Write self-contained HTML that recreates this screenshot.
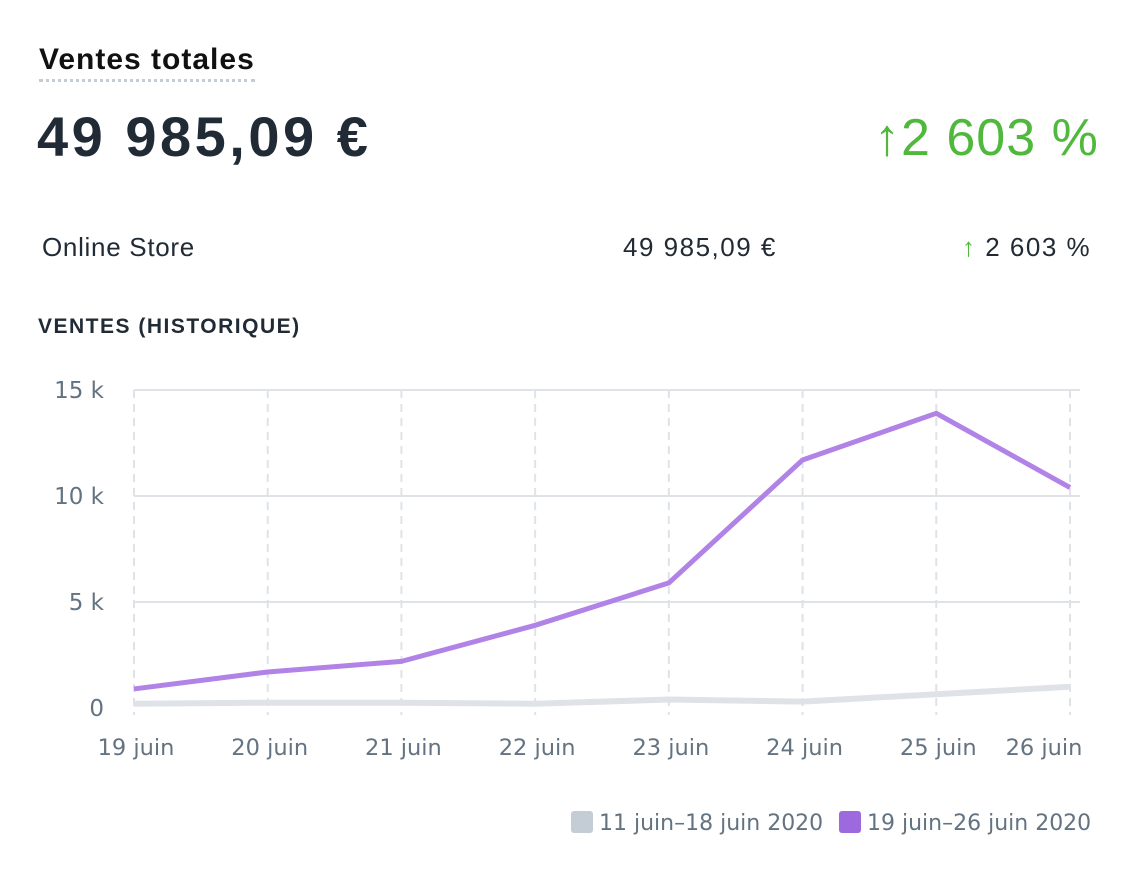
<!DOCTYPE html>
<html><head><meta charset="utf-8"><style>
body{margin:0;width:1134px;height:873px;background:#fff;font-family:"Liberation Sans",sans-serif;position:relative;overflow:hidden}
.a{position:absolute;white-space:nowrap}
</style></head><body>
<div class="a" style="left:39px;top:43px;font-size:30px;font-weight:bold;color:#111;letter-spacing:1px;border-bottom:3px dotted #c4cdd5;padding-bottom:2px">Ventes totales</div>
<div class="a" style="left:37px;top:104px;font-size:56px;font-weight:bold;color:#212b36;letter-spacing:3.5px">49 985,09 €</div>
<div class="a" style="left:874px;top:108px;font-size:52px;color:#50b83c;letter-spacing:1px">↑2 603 %</div>
<div class="a" style="left:42px;top:232px;font-size:26px;color:#212b36;letter-spacing:0.7px">Online Store</div>
<div class="a" style="left:623px;top:232px;font-size:26px;color:#212b36;letter-spacing:1.5px">49 985,09 €</div>
<div class="a" style="left:962px;top:232px;font-size:26px;color:#212b36;letter-spacing:1.5px"><span style="color:#50b83c">↑</span> 2 603 %</div>
<div class="a" style="left:38px;top:315px;font-size:21px;font-weight:bold;color:#212b36;letter-spacing:1.5px">VENTES (HISTORIQUE)</div>
<svg id="c" class="a" style="left:0;top:0" width="1134" height="873"></svg>
<div class="a" style="left:571px;top:811px;font-size:22px;color:#637381;font-family:'DejaVu Sans',sans-serif"><span style="display:inline-block;width:22px;height:22px;background:#c4cdd5;border-radius:3px;vertical-align:-3px;margin-right:6px"></span>11 juin–18 juin 2020</div>
<div class="a" style="left:839px;top:811px;font-size:22px;color:#637381;font-family:'DejaVu Sans',sans-serif"><span style="display:inline-block;width:22px;height:22px;background:#9c6ade;border-radius:3px;vertical-align:-3px;margin-right:6px"></span>19 juin–26 juin 2020</div>
<script>
const categories=["19 juin","20 juin","21 juin","22 juin","23 juin","24 juin","25 juin","26 juin"];
const currentValues=[0.9,1.7,2.2,3.9,5.9,11.7,13.9,10.4];
const previousValues=[0.2,0.25,0.25,0.2,0.4,0.3,0.65,1.0];
const yTicks=[0,5,10,15];
const yTickLabels=["0","5 k","10 k","15 k"];
const svg=document.getElementById('c');const NS="http://www.w3.org/2000/svg";
const x0=134,x1=1070,y0=708,yMax=15,yTop=390;
const X=i=>x0+(x1-x0)*i/(categories.length-1);
const Y=v=>y0-(y0-yTop)*v/yMax;
function mk(t,a){const e=document.createElementNS(NS,t);for(const k in a)e.setAttribute(k,a[k]);svg.appendChild(e);return e;}
yTicks.forEach((v,i)=>{
 if(v>0){const l=mk('line',{x1:x0,x2:1080,y1:Y(v),y2:Y(v),stroke:'#dfe3e8','stroke-width':2});
 
 }
 const t=mk('text',{x:104,y:Y(v)+8,'text-anchor':'end','font-size':23,fill:'#637381','font-family':'DejaVu Sans,sans-serif'});t.textContent=yTickLabels[i];
 
 
});
categories.forEach((c,i)=>{
 const l=mk('line',{x1:X(i),x2:X(i),y1:yTop,y2:715,stroke:'#dfe3e8','stroke-width':2,'stroke-dasharray':'8,6'});
 
 
 const t=mk('text',{x:X(i)+(i==categories.length-1?-26:2),y:755,'text-anchor':'middle','font-size':22.5,fill:'#637381','font-family':'DejaVu Sans,sans-serif'});t.textContent=c;
 
 
});
const p1=mk('polyline',{points:previousValues.map((v,i)=>X(i)+','+Y(v)).join(' '),fill:'none',stroke:'#dfe3e8','stroke-width':6,'stroke-linejoin':'round'});


const p2=mk('polyline',{points:currentValues.map((v,i)=>X(i)+','+Y(v)).join(' '),fill:'none',stroke:'#b183e6','stroke-width':5,'stroke-linejoin':'round'});


</script>
</body></html>
